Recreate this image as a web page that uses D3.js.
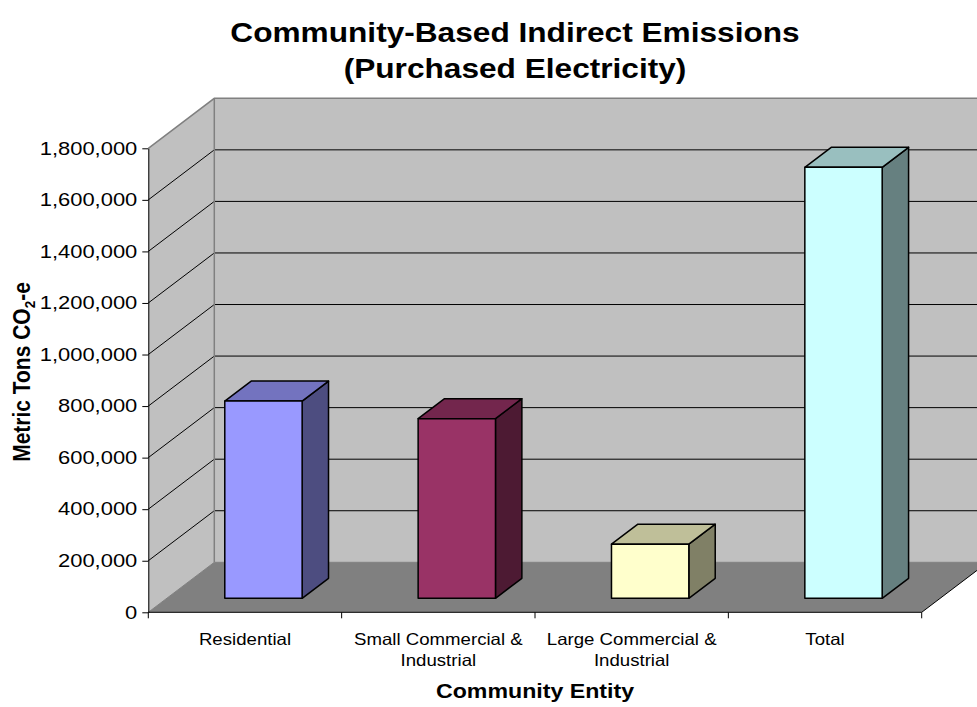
<!DOCTYPE html>
<html>
<head>
<meta charset="utf-8">
<script src="https://cdn.jsdelivr.net/npm/d3@7"></script>
<style>
  body { margin: 0; background: #fff; }
  text { font-family: Arial, "Liberation Sans", sans-serif; fill: #000; }
</style>
</head>
<body>
<svg id="chart" width="977" height="707"></svg>
<script>
// Community entities and their purchased-electricity emissions (metric tons CO2-e)
const categories = ["Residential", "Small Commercial & Industrial", "Large Commercial & Industrial", "Total"];
const categoryLines = [["Residential"], ["Small Commercial &", "Industrial"], ["Large Commercial &", "Industrial"], ["Total"]];
const emissions = [765000, 697000, 210000, 1672000];
const faceColors = ["#9999FF", "#993366", "#FFFFCC", "#CCFFFF"];
const yTicks = [0, 200000, 400000, 600000, 800000, 1000000, 1200000, 1400000, 1600000, 1800000];

const svg = d3.select("#chart");
const TEXT_STRETCH = 1.13;   // the chart's lettering is drawn slightly wide
const TICK_STRETCH = 1.22;

// Front plane of the 3-D box and the depth offset of its back plane
const plot = { left: 148.3, right: 921.7, bottom: 612.3, top: 148.3 };
const depth = { dx: 66, dy: -50 };
const barZ = [0.28, 0.68];          // front / back of each column, as a fraction of the depth

const x = d3.scaleLinear().domain([0, categories.length]).range([plot.left, plot.right]);
const band = d3.scaleBand().domain(categories).range([plot.left, plot.right])
  .paddingInner(0.6).paddingOuter(0.3);
const y = d3.scaleLinear().domain([0, 1800000]).range([plot.bottom, plot.top]);

// project a point (screen x on the front plane, value, depth fraction)
const proj = (px, v, z) => [px + depth.dx * z, y(v) + depth.dy * z];
const poly = pts => "M" + pts.map(p => p.join(",")).join("L") + "Z";

const yMax = yTicks[yTicks.length - 1];
const farRight = plot.right + 200;   // back wall runs off the right edge
const walls = svg.append("g");

// back wall
walls.append("path")
  .attr("d", poly([proj(plot.left, 0, 1), proj(farRight, 0, 1), proj(farRight, yMax, 1), proj(plot.left, yMax, 1)]))
  .attr("fill", "#C0C0C0");
// side wall
walls.append("path")
  .attr("d", poly([proj(plot.left, 0, 0), proj(plot.left, 0, 1), proj(plot.left, yMax, 1), proj(plot.left, yMax, 0)]))
  .attr("fill", "#C0C0C0");
// floor
walls.append("path")
  .attr("d", poly([proj(plot.left, 0, 0), proj(plot.right, 0, 0), proj(plot.right, 0, 1), proj(plot.left, 0, 1)]))
  .attr("fill", "#808080");
walls.append("path")
  .attr("d", "M" + proj(plot.right, 0, 0).join(",") + "L" + proj(plot.right, 0, 1).join(","))
  .attr("stroke", "#000").attr("stroke-width", 1).attr("fill", "none");

// gridlines: diagonal on the side wall, horizontal on the back wall
const grid = svg.append("g").attr("stroke", "#000").attr("stroke-width", 1).attr("fill", "none");
yTicks.filter(t => t > 0 && t < yMax).forEach(t => {
  const a = proj(plot.left, t, 0), b = proj(plot.left, t, 1), c = proj(farRight, t, 1);
  grid.append("path").attr("d", `M${a}L${b}L${c}`);
});

// wall edges
const edges = svg.append("g").attr("stroke", "#808080").attr("stroke-width", 1.5).attr("fill", "none");
edges.append("path").attr("d", `M${proj(plot.left, 0, 0)}L${proj(plot.left, 0, 1)}L${proj(farRight, 0, 1)}`).attr("stroke-width", 1);
edges.append("path").attr("d", `M${proj(plot.left, 0, 1)}L${proj(plot.left, yMax, 1)}`);
edges.append("path").attr("d", `M${proj(plot.left, yMax, 0)}L${proj(plot.left, yMax, 1)}L${proj(farRight, yMax, 1)}`);

// columns
const shade = (c, k) => { const r = d3.rgb(c); return d3.rgb(r.r * k, r.g * k, r.b * k).formatHex(); };
const bars = svg.append("g").attr("stroke", "#000").attr("stroke-width", 1.5).attr("stroke-linejoin", "round");
categories.forEach((cat, i) => {
  const x0 = band(cat), x1 = x0 + band.bandwidth(), v = emissions[i];
  const [z0, z1] = barZ;
  const g = bars.append("g");
  g.append("path").attr("fill", shade(faceColors[i], 0.5))
    .attr("d", poly([proj(x1, 0, z0), proj(x1, 0, z1), proj(x1, v, z1), proj(x1, v, z0)]));
  g.append("path").attr("fill", shade(faceColors[i], 0.75))
    .attr("d", poly([proj(x0, v, z0), proj(x1, v, z0), proj(x1, v, z1), proj(x0, v, z1)]));
  g.append("path").attr("fill", faceColors[i])
    .attr("d", poly([proj(x0, 0, z0), proj(x1, 0, z0), proj(x1, v, z0), proj(x0, v, z0)]));
});

// value axis on the front plane
const yAxis = svg.append("g").attr("transform", `translate(${plot.left},0)`)
  .call(d3.axisLeft(y).tickValues(yTicks).tickFormat(d3.format(",")).tickSize(6).tickSizeOuter(0).tickPadding(4));
yAxis.select(".domain").attr("stroke", "#000");
yAxis.selectAll(".tick line").attr("stroke", "#000");
yAxis.selectAll(".tick text")
  .attr("font-family", "Arial, 'Liberation Sans', sans-serif").attr("font-size", 18).attr("fill", "#000")
  .attr("x", -11 / TICK_STRETCH).attr("transform", `scale(${TICK_STRETCH},1)`);

// text placed at (px, py) and widened horizontally
function label(parent, px, py, rotate = 0) {
  const g = parent.append("g").attr("transform", `translate(${px},${py}) rotate(${rotate})`);
  return g.append("text").attr("transform", rotate ? `scale(1,${TEXT_STRETCH})` : `scale(${TEXT_STRETCH},1)`);
}

// category axis
const xAxis = svg.append("g");
xAxis.append("line").attr("x1", plot.left).attr("x2", plot.right).attr("y1", plot.bottom).attr("y2", plot.bottom).attr("stroke", "#000");
d3.range(categories.length + 1).forEach(i => {
  xAxis.append("line").attr("x1", x(i)).attr("x2", x(i)).attr("y1", plot.bottom).attr("y2", plot.bottom + 6).attr("stroke", "#000");
});
categories.forEach((cat, i) => {
  const t = label(xAxis, (x(i) + x(i + 1)) / 2, 645).attr("text-anchor", "middle").attr("font-size", 16.5);
  categoryLines[i].forEach((line, j) => t.append("tspan").attr("x", 0).attr("dy", j ? 21 : 0).text(line));
});

// titles
label(svg, 515, 42).attr("text-anchor", "middle").attr("font-size", 28).attr("font-weight", "bold")
  .text("Community-Based Indirect Emissions");
label(svg, 515, 78).attr("text-anchor", "middle").attr("font-size", 28).attr("font-weight", "bold")
  .text("(Purchased Electricity)");
label(svg, 535, 698).attr("text-anchor", "middle").attr("font-size", 20.5).attr("font-weight", "bold")
  .text("Community Entity");

const yTitle = label(svg, 30, 372, -90).attr("text-anchor", "middle").attr("font-size", 21).attr("font-weight", "bold");
yTitle.append("tspan").text("Metric Tons CO");
yTitle.append("tspan").attr("font-size", 13.5).attr("dy", 4).text("2");
yTitle.append("tspan").attr("dy", -4).text("-e");
</script>
</body>
</html>
